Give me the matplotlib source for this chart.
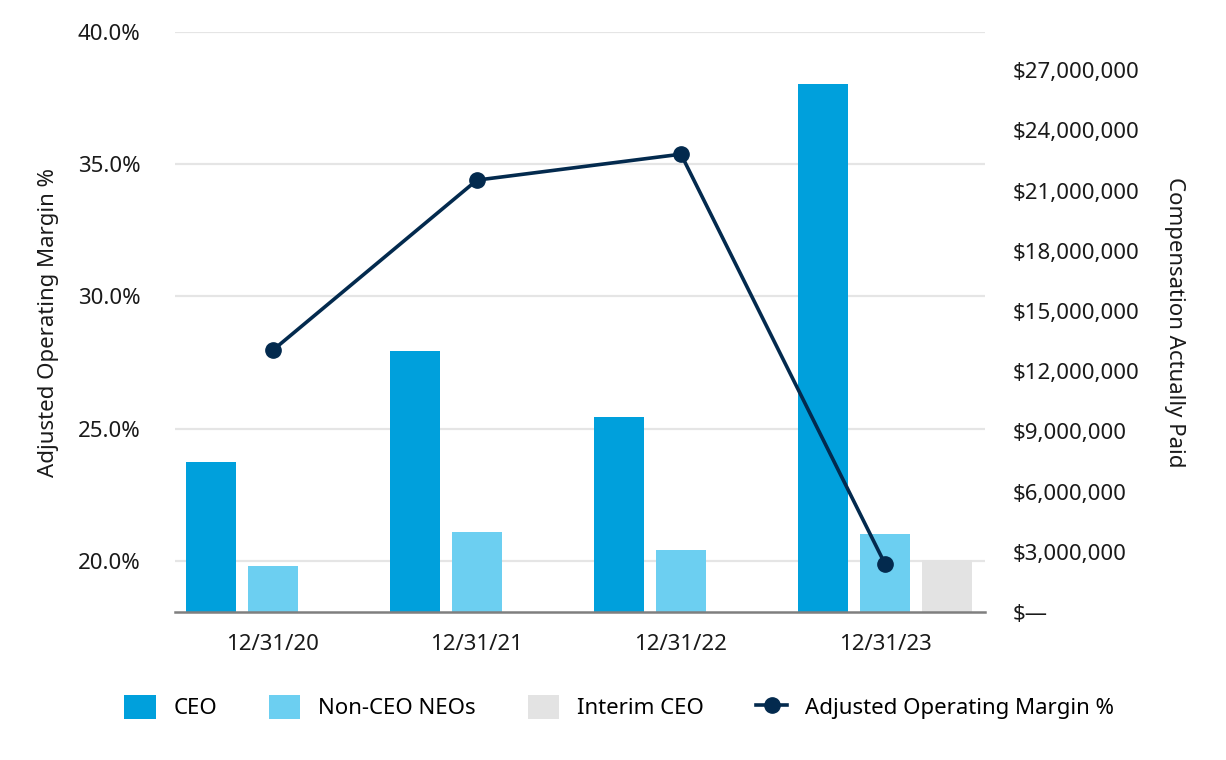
#!/usr/bin/env python

import matplotlib
matplotlib.use('Agg')
import matplotlib.pyplot as plt
import numpy as np
from matplotlib.ticker import FuncFormatter, FixedLocator

# chart data
periods = ['12/31/20', '12/31/21', '12/31/22', '12/31/23']
ceo_cap = [7.5e6, 13.0e6, 9.7e6, 26.3e6]
non_ceo_cap = [2.3e6, 4.0e6, 3.1e6, 3.9e6]
interim_ceo_cap = [np.nan, np.nan, np.nan, 2.6e6]
op_margin = [27.97, 34.40, 35.38, 19.89]

left_ticks = [20, 25, 30, 35, 40]
right_ticks = [0, 3e6, 6e6, 9e6, 12e6, 15e6, 18e6, 21e6, 24e6, 27e6]

c_ceo = '#00A0DC'
c_non_ceo = '#6CCFF1'
c_interim = '#E3E3E3'
c_line = '#032A4E'
c_grid = '#E5E5E5'
c_text = '#1A1A1A'

fs = 16
plt.rcParams['font.family'] = ['Noto Sans', 'DejaVu Sans']
plt.rcParams['font.size'] = fs

fig = plt.figure(figsize=(12.26, 7.6), dpi=100)
ax = fig.add_axes([0.1427, 0.1947, 0.6607, 0.7632])
ax2 = ax.twinx()
ax3 = ax.twinx()

x = np.arange(len(periods))
width = 0.245
offset = 0.304

# left axis: margin scale + grid
ax.set_ylim(18.07, 40)
ax.yaxis.set_major_locator(FixedLocator(left_ticks))
ax.yaxis.set_major_formatter(FuncFormatter(lambda v, p: '{:.1f}%'.format(v)))
ax.grid(axis='y', color=c_grid, linewidth=1.6)
ax.set_axisbelow(True)
ax.set_xlim(-0.48, 3.49)
ax.set_xticks(x)
ax.set_xticklabels(periods)
ax.tick_params(axis='both', length=0, labelsize=fs, labelcolor=c_text)
ax.tick_params(axis='y', pad=25)
ax.tick_params(axis='x', pad=16)
ax.set_ylabel('Adjusted Operating Margin %', fontsize=fs, color=c_text,
              labelpad=13)

# right axis: bars
b1 = ax2.bar(x - offset, ceo_cap, width, color=c_ceo, label='CEO')
b2 = ax2.bar(x, non_ceo_cap, width, color=c_non_ceo, label='Non-CEO NEOs')
b3 = ax2.bar(x + offset, interim_ceo_cap, width, color=c_interim,
             label='Interim CEO')
ax2.set_ylim(0, 28.9e6)
ax2.yaxis.set_major_locator(FixedLocator(right_ticks))
ax2.yaxis.set_major_formatter(
    FuncFormatter(lambda v, p: '$\u2014' if v == 0 else '${:,.0f}'.format(v)))
ax2.tick_params(axis='y', length=0, labelsize=fs, labelcolor=c_text, pad=20)
ax2.set_ylabel('Compensation Actually Paid', fontsize=fs, color=c_text,
               rotation=270, labelpad=18, va='bottom')

# line on top
ax3.set_ylim(ax.get_ylim())
ln, = ax3.plot(x, op_margin, color=c_line, linewidth=2.6, marker='o',
               markersize=11, label='Adjusted Operating Margin %',
               clip_on=False)
ax3.set_yticks([])

for a in (ax, ax2, ax3):
    for side in ('top', 'left', 'right', 'bottom'):
        a.spines[side].set_visible(False)
ax2.spines['bottom'].set_visible(True)
ax2.spines['bottom'].set_color('#7F7F7F')
ax2.spines['bottom'].set_linewidth(1.8)

fig.legend(handles=[b1, b2, b3, ln], loc='center', ncol=4, frameon=False,
           bbox_to_anchor=(0.505, 0.0697), fontsize=fs,
           handlelength=1.4, handleheight=1.3, handletextpad=0.8,
           columnspacing=2.35)

plt.savefig('out.png', dpi=100)
